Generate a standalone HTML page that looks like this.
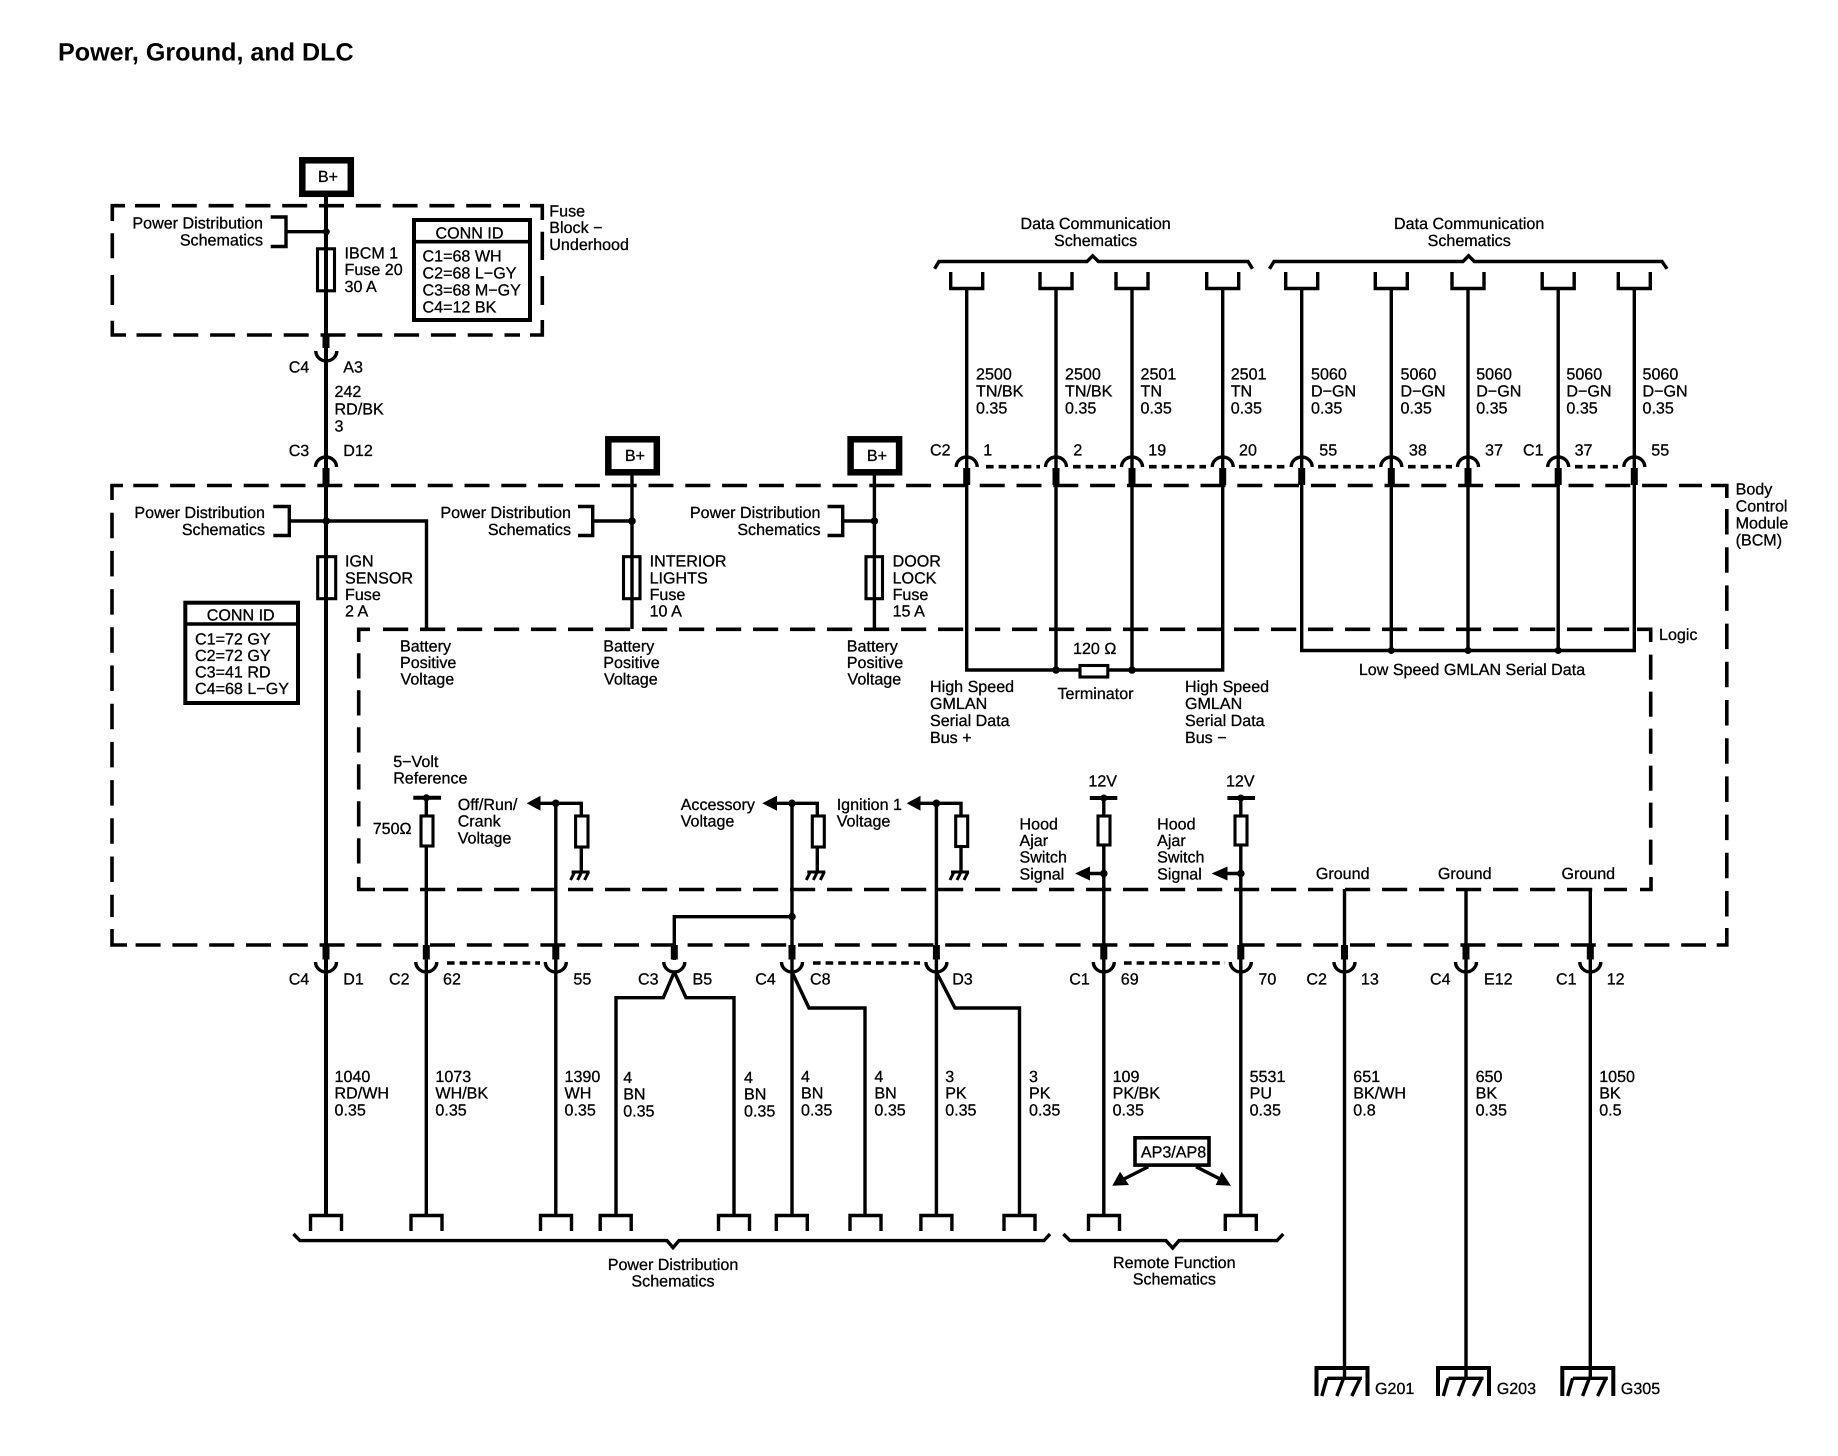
<!DOCTYPE html>
<html>
<head>
<meta charset="utf-8">
<title>Power, Ground, and DLC</title>
<style>
html,body{margin:0;padding:0;background:#fff}
svg{display:block}
text{font-family:"Liberation Sans",sans-serif;font-size:16.1px;fill:#000;stroke:#000;stroke-width:.3;text-rendering:geometricPrecision}
.t{font-size:25.1px;font-weight:bold;stroke-width:0}
.m{text-anchor:middle}
.e{text-anchor:end}
.w{fill:none;stroke:#000;stroke-width:3.4}
.h{fill:#fff;stroke:#000;stroke-width:3.1}
.d{fill:none;stroke:#000;stroke-width:3.6}
.dh{stroke-dasharray:25 11.8}
.dl{stroke-dasharray:25.2 11.8}
.dv{stroke-dasharray:25.5 12.7}
.dot{fill:none;stroke:#000;stroke-width:3.6;stroke-dasharray:7.6 5}
.s{fill:none;stroke:#000;stroke-width:7}
.a{fill:#000;stroke:none}
</style>
</head>
<body>
<svg width="1838" height="1456" viewBox="0 0 1838 1456" xmlns="http://www.w3.org/2000/svg">
<defs>
<path id="at" class="w" d="M-10.5 467 a10.5 10 0 0 1 21 0"/>
<path id="ab" class="w" d="M-10.5 962 a10.5 10 0 0 0 21 0"/>
<path id="u" class="w" d="M-16 272 V288.5 H16 V272"/>
<path id="n" class="w" d="M-15.5 1231 V1215.5 H15.5 V1231"/>
<path id="g" class="w" style="stroke-width:4" d="M-28 1396 V1368 H23 V1396"/>
<path id="gh" class="w" style="stroke-width:3.4" d="M-17.5 1378.3 H17.5 M-17.7 1378.3 L-22.7 1396 M-1 1378.3 L-7.7 1396 M15.7 1378.3 L7.3 1396"/>
<path id="mg" class="w" style="stroke-width:3" d="M-10 872 H8 M-7 872 L-11 880 M0 872 L-4 880 M7 872 L3 880"/>
</defs>

<text class="t" x="58" y="60.5">Power, Ground, and DLC</text>

<!-- top dashed box -->
<g>
<path class="d" d="M112.3 221 V205.7 H125"/>
<path class="d dh" d="M135 205.7 H520"/>
<path class="d" d="M530 205.7 H542.3 V220"/>
<path class="d" d="M542.3 231.7 V260 M542.3 276 V305"/>
<path class="d" d="M542.3 320 V335 H530"/>
<path class="d dh" d="M136.5 335 H520"/>
<path class="d" d="M112.3 233.3 V258.3 M112.3 275 V305"/>
<path class="d" d="M112.3 320.7 V335 H126"/>
</g>

<!-- BCM dashed box -->
<path class="d" d="M112 500 V485.5 H123"/>
<path class="d dh" d="M133.3 485.5 H1702"/>
<path class="d" d="M1711 485.5 H1726.8 V498"/>
<path class="d dv" d="M1726.8 509 V917"/>
<path class="d" d="M1716.7 945 H1726.8 V928"/>
<path class="d dh" d="M135.6 945 H1706"/>
<path class="d" d="M112 929 V945 H127"/>
<path class="d dv" d="M112 512.7 V917"/>

<!-- Logic dashed box -->
<path class="d" d="M358.7 642 V629.3 H370"/>
<path class="d dl" d="M383 629.3 H1630"/>
<path class="d" d="M1637 629.3 H1650.7 V642"/>
<path class="d dl" d="M1650.7 654.6 V865"/>
<path class="d" d="M1640 889.5 H1651 V877"/>
<path class="d dl" d="M383 889.5 H1627"/>
<path class="d" d="M358.7 877 V889.5 H375"/>
<path class="d dl" d="M358.7 653.3 V866"/>

<!-- B+ boxes -->
<g fill="#fff" stroke="#000" stroke-width="6.5">
<rect x="302.3" y="160.3" width="48.5" height="33.5"/>
<rect x="608.3" y="439.3" width="48.5" height="33"/>
<rect x="850.6" y="439.3" width="48.5" height="33"/>
</g>
<text class="m" x="328" y="182">B+</text>
<text class="m" x="635" y="461">B+</text>
<text class="m" x="877" y="461">B+</text>

<!-- fuses (wire runs through them) -->
<rect class="h" x="317.5" y="248.8" width="17" height="42"/>
<rect class="h" x="317.7" y="556.7" width="18" height="42"/>
<rect class="h" x="623.5" y="556.7" width="16.5" height="42"/>
<rect class="h" x="866" y="556.7" width="16.5" height="42"/>

<!-- wires -->
<path class="w" style="stroke-width:4" d="M326 197 V1215"/>
<path class="w" d="M632 475 V629 M874.4 475 V629"/>
<path class="w" d="M270.7 217 H286 V246.5 H270.7 M286 231.7 H326"/>
<path class="w" d="M273.3 506.5 H289.3 V535.5 H273.3 M289.3 521 H426.5 V629"/>
<path class="w" d="M578 506.5 H592.7 V535.5 H578 M592.7 521 H632"/>
<path class="w" d="M827.5 506.5 H842.7 V535.5 H827.5 M842.7 521 H874.4"/>

<path class="w" d="M966.7 288 V670 H1222.7 V288 M1056 288 V670 M1132 288 V670"/>
<path class="w" d="M1301.7 288 V650.5 H1634.3 V288 M1391.3 288 V650.5 M1468 288 V650.5 M1558.2 288 V650.5"/>

<path class="w" d="M426.3 798 V1215 M555.8 803.3 V1215 M792 803.3 V1215 M936.4 803.3 V1215 M1103.8 798 V1215 M1240.8 798 V1215"/>
<path class="w" d="M1344.5 889 V1378 M1466 889 V1378 M1590.3 889 V1378"/>
<path class="w" d="M674.3 960 V916.7 H792"/>
<path class="w" d="M674.3 972 L663.3 997.7 H616 V1215 M674.3 972 L686 997.7 H734 V1215"/>
<path class="w" d="M792 972 L809 1008 H865 V1215"/>
<path class="w" d="M936.4 972 L955 1008 H1019.5 V1215"/>

<path class="w" d="M540 803.3 H581.3 V872 M776 803.3 H817.3 V872 M920 803.3 H961 V872"/>
<path class="w" d="M1089 873.5 H1103.8 M1227 873.5 H1240.8"/>
<path class="w" style="stroke-width:4" d="M413.3 797.8 H441 M1089.8 798 H1117.3 M1227.4 798 H1255"/>

<!-- resistors -->
<rect class="h" x="421" y="816" width="12" height="30"/>
<rect class="h" x="575.6" y="816" width="12.4" height="31"/>
<rect class="h" x="812.3" y="816" width="12" height="31"/>
<rect class="h" x="955.7" y="816" width="12" height="30.5"/>
<rect class="h" x="1098" y="816" width="12" height="29"/>
<rect class="h" x="1235" y="816" width="12" height="29"/>
<rect class="h" x="1080" y="665.5" width="27.8" height="11.5"/>

<!-- dots -->
<g fill="#000">
<circle cx="326.3" cy="231.7" r="3.5"/><circle cx="326.3" cy="521" r="3.8"/>
<circle cx="632" cy="521" r="3.8"/><circle cx="874.4" cy="521" r="3.8"/>
<circle cx="1056" cy="670" r="3.8"/><circle cx="1132" cy="670" r="3.8"/>
<circle cx="1391.3" cy="650.5" r="3.5"/><circle cx="1468" cy="650.5" r="3.5"/><circle cx="1558.2" cy="650.5" r="3.5"/>
<circle cx="426.3" cy="797.8" r="3.5"/><circle cx="555.8" cy="803.3" r="3.8"/><circle cx="792" cy="803.3" r="3.8"/><circle cx="936.4" cy="803.3" r="3.8"/>
<circle cx="1103.8" cy="798" r="3.5"/><circle cx="1240.8" cy="798" r="3.5"/>
<circle cx="1103.8" cy="873.5" r="3.8"/><circle cx="1240.8" cy="873.5" r="3.8"/>
<circle cx="792" cy="916.7" r="3.8"/>
</g>

<!-- arrows -->
<polygon class="a" points="526.7,803.3 540.5,795.8 540.5,810.8"/>
<polygon class="a" points="762.3,803.3 777,795.8 777,810.8"/>
<polygon class="a" points="906.7,803.3 920.5,795.8 920.5,810.8"/>
<polygon class="a" points="1075,873.5 1090,866.5 1090,880.5"/>
<polygon class="a" points="1211.6,873.5 1227.5,866.5 1227.5,880.5"/>
<polygon class="a" points="1112.3,1185.7 1120,1171.7 1129,1185"/>
<polygon class="a" points="1231,1185.7 1221.7,1171.7 1215.7,1185"/>
<path class="w" d="M1148.3 1166.7 L1122 1180 M1196 1166.7 L1222 1180"/>

<!-- mini grounds -->
<use href="#mg" x="581.6"/><use href="#mg" x="817.3"/><use href="#mg" x="961"/>

<!-- thick connector stubs -->
<path class="s" d="M326 334 V348 M326 468 V485.5 M966.7 468 V485 M1056 468 V485 M1132 468 V485 M1222.7 468 V485 M1301.7 468 V485 M1391.3 468 V485 M1468 468 V485 M1558.2 468 V485 M1634.3 468 V485"/>
<path class="s" d="M326 945 V959.5 M426.3 945 V959.5 M555.8 945 V959.5 M674.3 945 V959.5 M792 945 V959.5 M936.4 945 V959.5 M1103.8 945 V959.5 M1240.8 945 V959.5 M1344.5 945 V959.5 M1466 945 V959.5 M1590.3 945 V959.5"/>

<!-- connector arcs -->
<use href="#ab" x="326.3" y="-611"/>
<use href="#at" x="326"/>
<use href="#at" x="966.7"/><use href="#at" x="1056"/><use href="#at" x="1132"/><use href="#at" x="1222.7"/><use href="#at" x="1301.7"/><use href="#at" x="1391.3"/><use href="#at" x="1468"/><use href="#at" x="1558.2"/><use href="#at" x="1634.3"/>
<use href="#ab" x="326"/><use href="#ab" x="426.3"/><use href="#ab" x="555.8"/><use href="#ab" x="674.3"/><use href="#ab" x="792"/><use href="#ab" x="936.4"/><use href="#ab" x="1103.8"/><use href="#ab" x="1240.8"/><use href="#ab" x="1344.5"/><use href="#ab" x="1466"/><use href="#ab" x="1590.3"/>

<!-- dotted shields -->
<path class="dot" d="M986 466.7 H1040 M1073 466.7 H1116 M1149 466.7 H1206 M1239 466.7 H1285 M1318 466.7 H1375 M1408 466.7 H1452"/>
<path class="dot" d="M1575 466.7 H1618"/>
<path class="dot" d="M447 963 H540 M813 963 H920 M1124 963 H1225"/>

<!-- top connectors -->
<use href="#u" x="966.7"/><use href="#u" x="1056"/><use href="#u" x="1132"/><use href="#u" x="1222.7"/><use href="#u" x="1301.7"/><use href="#u" x="1391.3"/><use href="#u" x="1468"/><use href="#u" x="1558.2"/><use href="#u" x="1634.3"/>
<!-- bottom connectors -->
<use href="#n" x="326"/><use href="#n" x="426.5"/><use href="#n" x="556"/><use href="#n" x="615.7"/><use href="#n" x="734"/><use href="#n" x="791.8"/><use href="#n" x="865.5"/><use href="#n" x="936.4"/><use href="#n" x="1019.5"/><use href="#n" x="1104"/><use href="#n" x="1240.8"/>

<!-- braces -->
<path class="w" d="M934.6 268.8 L939 261.5 H1087 L1092.7 255.8 L1098.4 261.5 H1248 L1252.5 268.8"/>
<path class="w" d="M1269.5 268.8 L1274 261.5 H1463 L1468.6 255.8 L1474.3 261.5 H1662 L1667 268.8"/>
<path class="w" d="M293.4 1234 L300 1240.6 H667 L673 1247.6 L679 1240.6 H1044 L1050 1234"/>
<path class="w" d="M1063.4 1234 L1070 1240.6 H1166 L1172.7 1248 L1179 1240.6 H1277 L1283.3 1234"/>

<!-- grounds -->
<use href="#g" x="1344.5"/><use href="#g" x="1466"/><use href="#g" x="1590.3"/>
<use href="#gh" x="1344.5"/><use href="#gh" x="1466"/><use href="#gh" x="1590.3"/>

<!-- CONN ID boxes -->
<rect x="414" y="220" width="116" height="100" fill="#fff" stroke="#000" stroke-width="4"/>
<path class="d" d="M414 241.7 H530"/>
<rect x="185.3" y="602.7" width="112.7" height="100.3" fill="#fff" stroke="#000" stroke-width="4"/>
<path class="d" d="M185.3 624 H298"/>
<rect x="1135" y="1137.8" width="74" height="27.3" fill="#fff" stroke="#000" stroke-width="3.6"/>

<!-- labels -->
<g>
<text class="e" x="263" y="228.3">Power Distribution</text>
<text class="e" x="263" y="245.7">Schematics</text>
<text x="344.5" y="258.3">IBCM 1</text><text x="344.5" y="275">Fuse 20</text><text x="344.5" y="292">30 A</text>
<text class="m" x="469.5" y="238.3">CONN ID</text>
<text x="422.5" y="261.6">C1=68 WH</text><text x="422.5" y="278.5">C2=68 L−GY</text><text x="422.5" y="295.4">C3=68 M−GY</text><text x="422.5" y="312.3">C4=12 BK</text>
<text x="549.3" y="216.4">Fuse</text><text x="549.3" y="233.2">Block −</text><text x="549.3" y="250">Underhood</text>

<text x="288.7" y="372.4">C4</text><text x="343.3" y="372.4">A3</text>
<text x="334.5" y="397">242</text><text x="334.5" y="414.5">RD/BK</text><text x="334.5" y="431.5">3</text>
<text x="288.7" y="456">C3</text><text x="343.3" y="456">D12</text>

<text class="e" x="265" y="518.2">Power Distribution</text><text class="e" x="265" y="535.2">Schematics</text>
<text class="e" x="571" y="518.2">Power Distribution</text><text class="e" x="571" y="535.2">Schematics</text>
<text class="e" x="820.5" y="518.2">Power Distribution</text><text class="e" x="820.5" y="535.2">Schematics</text>

<text x="345" y="566.7">IGN</text><text x="345" y="583.3">SENSOR</text><text x="345" y="600">Fuse</text><text x="345" y="616.7">2 A</text>
<text x="649.6" y="566.7">INTERIOR</text><text x="649.6" y="583.3">LIGHTS</text><text x="649.6" y="600">Fuse</text><text x="649.6" y="616.7">10 A</text>
<text x="892.6" y="566.7">DOOR</text><text x="892.6" y="583.3">LOCK</text><text x="892.6" y="600">Fuse</text><text x="892.6" y="616.7">15 A</text>

<text class="m" x="240.7" y="620.3">CONN ID</text>
<text x="195" y="644.3">C1=72 GY</text><text x="195" y="661">C2=72 GY</text><text x="195" y="677.5">C3=41 RD</text><text x="195" y="694">C4=68 L−GY</text>

<text x="400" y="651.7">Battery</text><text x="400" y="668">Positive</text><text x="400.5" y="684.5">Voltage</text>
<text x="603.3" y="651.7">Battery</text><text x="603.3" y="668">Positive</text><text x="604" y="684.5">Voltage</text>
<text x="846.8" y="651.7">Battery</text><text x="846.8" y="668">Positive</text><text x="847.5" y="684.5">Voltage</text>

<text class="m" x="1095.6" y="229">Data Communication</text><text class="m" x="1095.6" y="245.8">Schematics</text>
<text class="m" x="1469.2" y="229">Data Communication</text><text class="m" x="1469.2" y="245.8">Schematics</text>

<text x="976" y="379.3">2500</text><text x="976" y="396.3">TN/BK</text><text x="976" y="413.3">0.35</text>
<text x="1065" y="379.3">2500</text><text x="1065" y="396.3">TN/BK</text><text x="1065" y="413.3">0.35</text>
<text x="1140.5" y="379.3">2501</text><text x="1140.5" y="396.3">TN</text><text x="1140.5" y="413.3">0.35</text>
<text x="1230.7" y="379.3">2501</text><text x="1230.7" y="396.3">TN</text><text x="1230.7" y="413.3">0.35</text>
<text x="1311" y="379.3">5060</text><text x="1311" y="396.3">D−GN</text><text x="1311" y="413.3">0.35</text>
<text x="1400.5" y="379.3">5060</text><text x="1400.5" y="396.3">D−GN</text><text x="1400.5" y="413.3">0.35</text>
<text x="1476.2" y="379.3">5060</text><text x="1476.2" y="396.3">D−GN</text><text x="1476.2" y="413.3">0.35</text>
<text x="1566.4" y="379.3">5060</text><text x="1566.4" y="396.3">D−GN</text><text x="1566.4" y="413.3">0.35</text>
<text x="1642.5" y="379.3">5060</text><text x="1642.5" y="396.3">D−GN</text><text x="1642.5" y="413.3">0.35</text>

<text x="930" y="455.5">C2</text><text x="983.2" y="455.5">1</text><text x="1073.4" y="455.5">2</text><text x="1148.3" y="455.5">19</text><text x="1239" y="455.5">20</text><text x="1319.3" y="455.5">55</text><text x="1408.9" y="455.5">38</text><text x="1485" y="455.5">37</text><text x="1523" y="455.5">C1</text><text x="1574.6" y="455.5">37</text><text x="1651.3" y="455.5">55</text>

<text x="1735.6" y="494.6">Body</text><text x="1735.6" y="511.5">Control</text><text x="1735.6" y="528.5">Module</text><text x="1735.6" y="545.5">(BCM)</text>
<text x="1659" y="640">Logic</text>

<text x="1073" y="654">120 Ω</text>
<text class="m" x="1095.5" y="699">Terminator</text>
<text x="930" y="692">High Speed</text><text x="930" y="709">GMLAN</text><text x="930" y="726">Serial Data</text><text x="930" y="743">Bus +</text>
<text x="1185" y="692">High Speed</text><text x="1185" y="709">GMLAN</text><text x="1185" y="726">Serial Data</text><text x="1185" y="743">Bus −</text>
<text class="m" x="1472" y="675">Low Speed GMLAN Serial Data</text>

<text x="393.2" y="767">5−Volt</text><text x="393.2" y="783.7">Reference</text>
<text x="372.7" y="834">750Ω</text>
<text x="457.7" y="810">Off/Run/</text><text x="457.7" y="826.7">Crank</text><text x="457.7" y="843.3">Voltage</text>
<text x="680.7" y="810">Accessory</text><text x="680.7" y="826.7">Voltage</text>
<text x="836.7" y="810">Ignition 1</text><text x="836.7" y="826.7">Voltage</text>

<text class="m" x="1102.7" y="786.5">12V</text><text class="m" x="1240.3" y="786.5">12V</text>
<text x="1019.5" y="829.5">Hood</text><text x="1019.5" y="846">Ajar</text><text x="1019.5" y="862.5">Switch</text><text x="1019.5" y="879.5">Signal</text>
<text x="1157.1" y="829.5">Hood</text><text x="1157.1" y="846">Ajar</text><text x="1157.1" y="862.5">Switch</text><text x="1157.1" y="879.5">Signal</text>
<text class="m" x="1342.7" y="879">Ground</text><text class="m" x="1464.7" y="879">Ground</text><text class="m" x="1588.3" y="879">Ground</text>

<text x="288.7" y="984.5">C4</text><text x="343.3" y="984.5">D1</text>
<text x="389" y="984.5">C2</text><text x="443" y="984.5">62</text>
<text x="573.4" y="984.5">55</text>
<text x="638" y="984.5">C3</text><text x="692.5" y="984.5">B5</text>
<text x="755.3" y="984.5">C4</text><text x="810" y="984.5">C8</text>
<text x="952.2" y="984.5">D3</text>
<text x="1069.3" y="984.5">C1</text><text x="1120.8" y="984.5">69</text>
<text x="1258.4" y="984.5">70</text>
<text x="1306.4" y="984.5">C2</text><text x="1360.9" y="984.5">13</text>
<text x="1430" y="984.5">C4</text><text x="1484" y="984.5">E12</text>
<text x="1556" y="984.5">C1</text><text x="1606.7" y="984.5">12</text>

<text x="334.5" y="1082">1040</text><text x="334.5" y="1098.7">RD/WH</text><text x="334.5" y="1115.3">0.35</text>
<text x="435.4" y="1082">1073</text><text x="435.4" y="1098.7">WH/BK</text><text x="435.4" y="1115.3">0.35</text>
<text x="564.5" y="1082">1390</text><text x="564.5" y="1098.7">WH</text><text x="564.5" y="1115.3">0.35</text>
<text x="623.2" y="1083">4</text><text x="623.2" y="1099.7">BN</text><text x="623.2" y="1116.5">0.35</text>
<text x="744" y="1083">4</text><text x="744" y="1099.7">BN</text><text x="744" y="1116.3">0.35</text>
<text x="801" y="1082">4</text><text x="801" y="1098.7">BN</text><text x="801" y="1115.3">0.35</text>
<text x="874.4" y="1082">4</text><text x="874.4" y="1098.7">BN</text><text x="874.4" y="1115.3">0.35</text>
<text x="945.2" y="1082">3</text><text x="945.2" y="1098.7">PK</text><text x="945.2" y="1115.3">0.35</text>
<text x="1029" y="1082">3</text><text x="1029" y="1098.7">PK</text><text x="1029" y="1115.3">0.35</text>
<text x="1112.6" y="1082">109</text><text x="1112.6" y="1098.7">PK/BK</text><text x="1112.6" y="1115.3">0.35</text>
<text x="1249.6" y="1082">5531</text><text x="1249.6" y="1098.7">PU</text><text x="1249.6" y="1115.3">0.35</text>
<text x="1353.3" y="1082">651</text><text x="1353.3" y="1098.7">BK/WH</text><text x="1353.3" y="1115.3">0.8</text>
<text x="1475.6" y="1082">650</text><text x="1475.6" y="1098.7">BK</text><text x="1475.6" y="1115.3">0.35</text>
<text x="1599.2" y="1082">1050</text><text x="1599.2" y="1098.7">BK</text><text x="1599.2" y="1115.3">0.5</text>

<text class="m" x="1173.5" y="1157.3">AP3/AP8</text>
<text class="m" x="673" y="1270">Power Distribution</text><text class="m" x="673" y="1286.5">Schematics</text>
<text class="m" x="1174.3" y="1268">Remote Function</text><text class="m" x="1174.3" y="1284.7">Schematics</text>
<text x="1375" y="1394">G201</text><text x="1496.7" y="1394">G203</text><text x="1620.8" y="1394">G305</text>
</g>
</svg>
</body>
</html>
